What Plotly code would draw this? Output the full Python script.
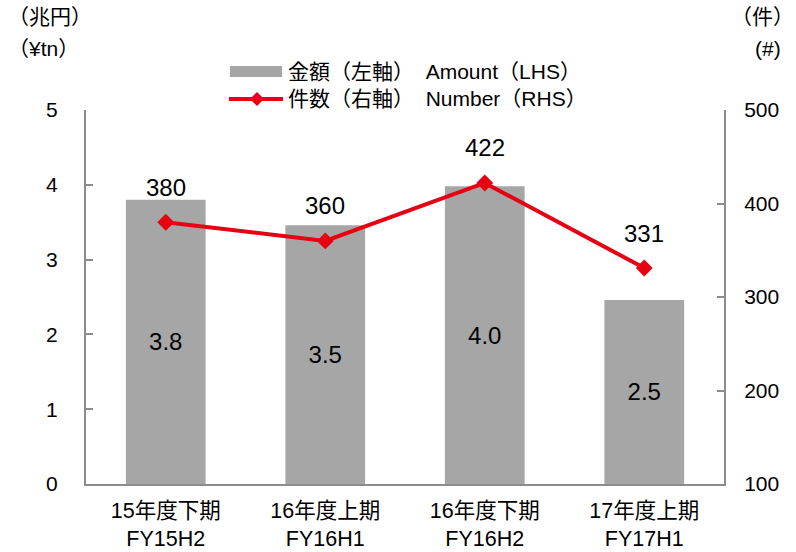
import plotly.graph_objects as go

# Half-year periods
periods = ["15年度下期<br>FY15H2", "16年度上期<br>FY16H1", "16年度下期<br>FY16H2", "17年度上期<br>FY17H1"]
# Amount in trillion yen (left axis)
amount = [3.80, 3.46, 3.98, 2.46]
# Number of cases (right axis)
count = [380, 360, 422, 331]

left_ticks = [0, 1, 2, 3, 4, 5]
right_ticks = [100, 200, 300, 400, 500]

FONT = "Liberation Sans, Arial, Noto Sans CJK JP, sans-serif"
GREY = "#a6a6a6"
RED = "#e60012"
AXIS = "#8c8c8c"

fig = go.Figure()

fig.add_trace(go.Bar(
    x=periods, y=amount,
    marker=dict(color=GREY, line=dict(width=0)),
    width=0.5,
    text=[f"{v:.1f}" for v in amount],
    textposition="inside", insidetextanchor="middle",
    textfont=dict(size=24, color="#000000", family=FONT),
    showlegend=False, yaxis="y",
))

fig.add_trace(go.Scatter(
    x=periods, y=count, yaxis="y2",
    mode="lines+markers",
    line=dict(color=RED, width=4),
    marker=dict(symbol="diamond", size=13, color=RED),
    showlegend=False,
))

# Count labels above each point
for p, c in zip(periods, count):
    fig.add_annotation(x=p, y=c, xref="x", yref="y2", text=str(c),
                       yshift=35, showarrow=False,
                       font=dict(size=24, color="#000000"))

fig.update_layout(
    width=796, height=552,
    margin=dict(l=86, r=72, t=110, b=68),
    paper_bgcolor="white", plot_bgcolor="white",
    font=dict(family=FONT, size=21, color="#000000"),
    xaxis=dict(
        type="category", range=[-0.5, 3.5], automargin=False,
        showline=True, linecolor=AXIS, linewidth=2,
        ticks="", showgrid=False, tickfont=dict(size=21.5),
        ticklabelstandoff=6,
    ),
    yaxis=dict(
        range=[0, 5], tickvals=left_ticks, automargin=False,
        showline=True, linecolor=AXIS, linewidth=2,
        ticks="inside", ticklen=7, tickcolor=AXIS, tickwidth=2,
        showgrid=False, zeroline=False, ticklabelstandoff=22,
        tickfont=dict(size=21),
    ),
    yaxis2=dict(
        range=[100, 500], tickvals=right_ticks, overlaying="y", side="right",
        automargin=False,
        showline=True, linecolor=AXIS, linewidth=2,
        ticks="inside", ticklen=7, tickcolor=AXIS, tickwidth=2,
        showgrid=False, zeroline=False, ticklabelstandoff=14,
        tickfont=dict(size=21),
    ),
    bargap=0.5,
)

# Pixel helpers for paper coordinates
pw, ph = 796 - 86 - 72, 552 - 110 - 68
def px(x):
    return (x - 86) / pw
def py(y):
    return (552 - 68 - y) / ph

# Axis unit captions
fig.add_annotation(text="（兆円）", xref="paper", yref="paper", x=px(6), y=py(16),
                   xanchor="left", yanchor="middle", showarrow=False, font=dict(size=21))
fig.add_annotation(text="（¥tn）", xref="paper", yref="paper", x=px(6), y=py(48),
                   xanchor="left", yanchor="middle", showarrow=False, font=dict(size=21))
fig.add_annotation(text="（件）", xref="paper", yref="paper", x=px(796), y=py(16),
                   xanchor="right", yanchor="middle", showarrow=False, font=dict(size=21))
fig.add_annotation(text="(#)", xref="paper", yref="paper", x=px(768), y=py(48),
                   xanchor="center", yanchor="middle", showarrow=False, font=dict(size=21))

# Legend
fig.add_shape(type="rect", xref="paper", yref="paper",
              x0=px(230), x1=px(282), y0=py(77), y1=py(66),
              fillcolor=GREY, line=dict(width=0))
fig.add_shape(type="line", xref="paper", yref="paper",
              x0=px(229), x1=px(283), y0=py(99), y1=py(99),
              line=dict(color=RED, width=4))
fig.add_shape(type="path", xref="paper", yref="paper",
              path=f"M {px(250)} {py(99)} L {px(257)} {py(92)} L {px(264)} {py(99)} L {px(257)} {py(106)} Z",
              fillcolor=RED, line=dict(width=0))
fig.add_annotation(text="金額（左軸）  Amount（LHS）", xref="paper", yref="paper",
                   x=px(286), y=py(71), xanchor="left", yanchor="middle",
                   showarrow=False, font=dict(size=21))
fig.add_annotation(text="件数（右軸）  Number（RHS）", xref="paper", yref="paper",
                   x=px(286), y=py(98), xanchor="left", yanchor="middle",
                   showarrow=False, font=dict(size=21))

fig.write_html("out.html")
